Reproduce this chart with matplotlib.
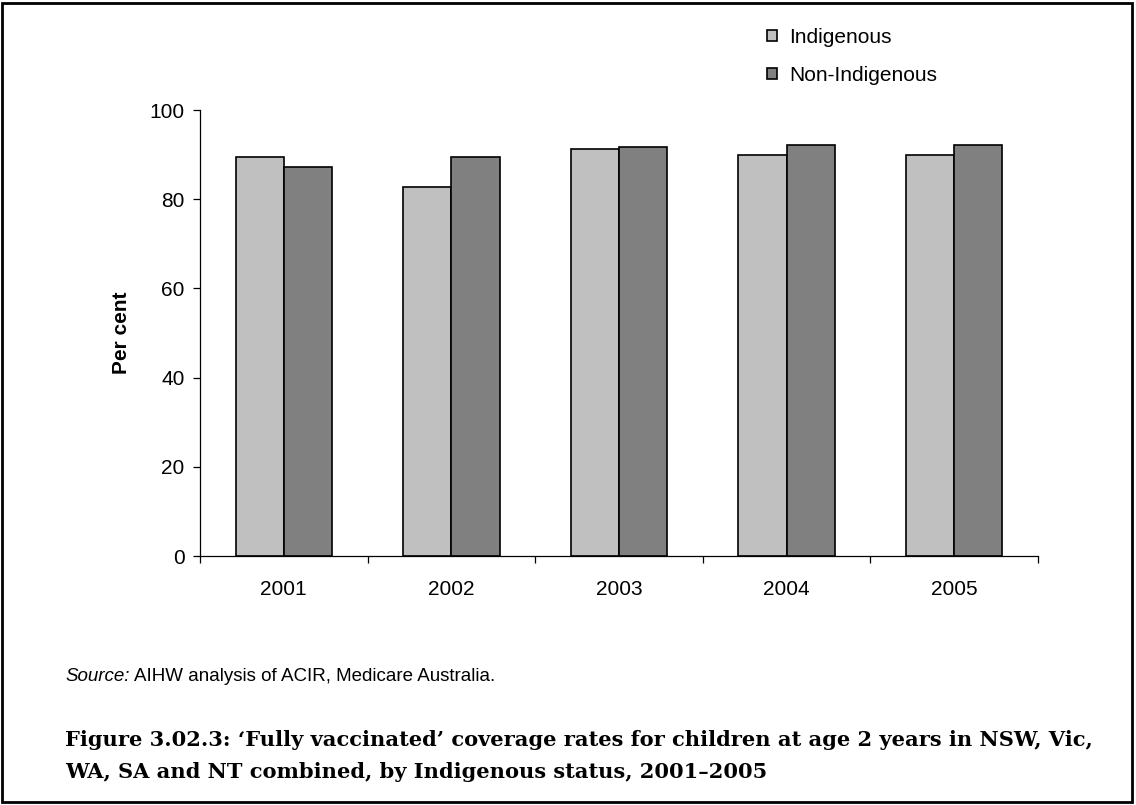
import matplotlib.pyplot as plt
from matplotlib.patches import Rectangle
import numpy as np

years = ['2001', '2002', '2003', '2004', '2005']
indigenous = [89.4, 82.7, 91.2, 89.8, 89.8]
non_indigenous = [87.2, 89.4, 91.6, 92.1, 92.1]

plt.rcParams['font.family'] = ['Liberation Sans', 'DejaVu Sans']

fig = plt.figure(figsize=(11.36, 8.05), dpi=100)
ax = fig.add_axes([200 / 1136, 1 - 556 / 805, 838 / 1136, 446 / 805])

x = np.arange(len(years))
w = 0.287
ax.bar(x - w / 2, indigenous, w, color='#c0c0c0', edgecolor='black', linewidth=1.2, label='Indigenous')
ax.bar(x + w / 2, non_indigenous, w, color='#808080', edgecolor='black', linewidth=1.2, label='Non-Indigenous')

ax.set_xlim(-0.5, len(years) - 0.5)
ax.set_ylim(0, 100)
ax.set_yticks(range(0, 101, 20))
ax.tick_params(axis='y', labelsize=15, length=5, width=0.9, pad=6)

# year labels centred under each group, tick marks between groups
ax.set_xticks(x)
ax.set_xticklabels(years)
ax.tick_params(axis='x', which='major', length=0, labelsize=15, pad=17)
ax.set_xticks(np.arange(-0.5, len(years), 1), minor=True)
ax.tick_params(axis='x', which='minor', length=5, width=0.9, direction='out')

for side in ('top', 'right'):
    ax.spines[side].set_visible(False)
for side in ('left', 'bottom'):
    ax.spines[side].set_linewidth(0.9)
ax.set_ylabel('Per cent', fontsize=15, fontweight='bold', labelpad=13.5)

ax.legend(loc='upper left', bbox_to_anchor=(767 / 1136, 1 - 28 / 805),
          bbox_transform=fig.transFigure, frameon=False, fontsize=15,
          handlelength=0.5, handleheight=0.4, handletextpad=0.56,
          labelspacing=0.92, borderaxespad=0, borderpad=0)

src = fig.text(65 / 1136, 1 - 676 / 805, 'Source:', fontsize=13.5, style='italic', va='center')
ax.annotate('AIHW analysis of ACIR, Medicare Australia.', xy=(1, 0.5), xycoords=src,
            xytext=(3.5, 0), textcoords='offset points', fontsize=13.5, va='center', ha='left')

caption = ("Figure 3.02.3: \u2018Fully vaccinated\u2019 coverage rates for children at age 2 years in NSW, Vic,\n"
           "WA, SA and NT combined, by Indigenous status, 2001\u20132005")
fig.text(65 / 1136, 1 - 755.5 / 805, caption, fontsize=15.1, fontweight='bold',
         family=['DejaVu Serif'], va='center', linespacing=1.75)

# frame round the whole figure
fig.patches.append(Rectangle((2 / 1136, 3 / 805), 1130 / 1136, 799 / 805, transform=fig.transFigure,
                             fill=False, edgecolor='black', linewidth=2))

fig.savefig('out.png', dpi=100)
